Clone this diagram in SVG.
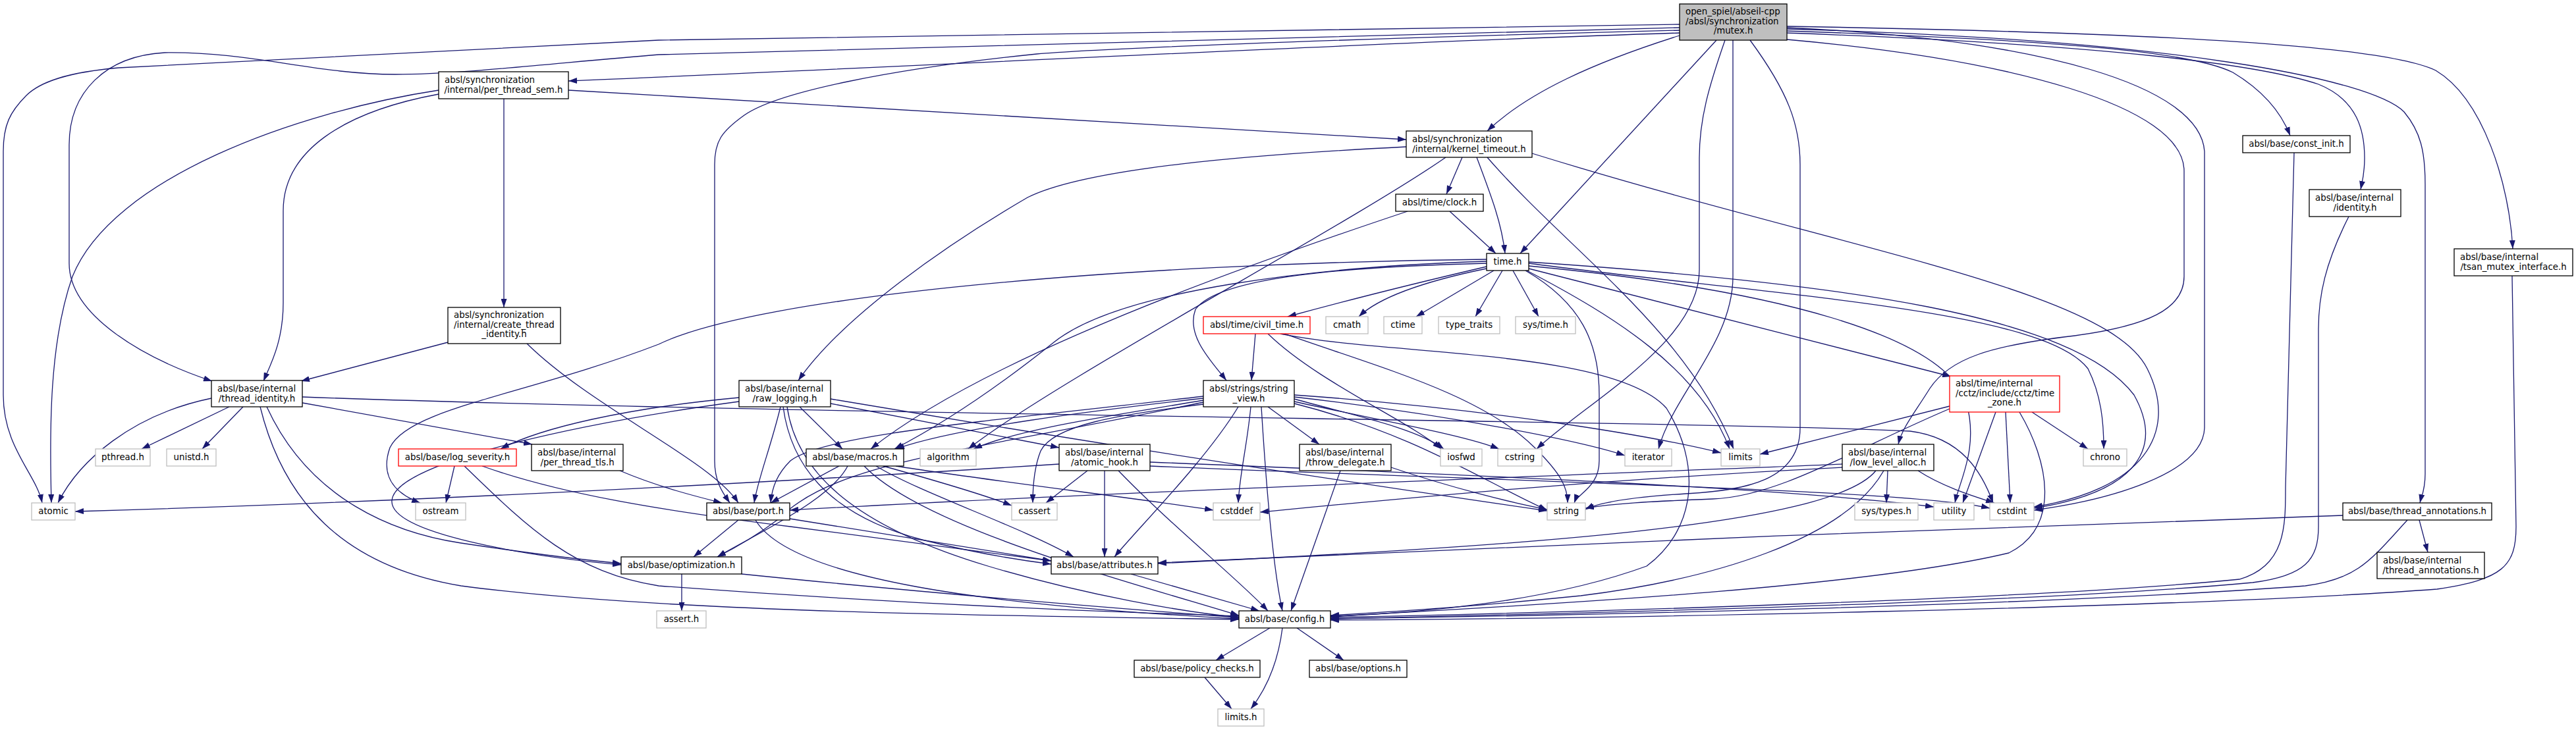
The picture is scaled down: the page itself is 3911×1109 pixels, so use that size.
<svg xmlns="http://www.w3.org/2000/svg" width="3911" height="1109" viewBox="0 0 3911 1109">
<style>
.n rect{fill:#fff;stroke:#000;stroke-width:1.3}
.g rect{fill:#fff;stroke:#bfbfbf;stroke-width:1.3}
.r rect{fill:#fff;stroke:#f00;stroke-width:1.3}
text{font-family:"DejaVu Sans","Liberation Sans",sans-serif;font-size:13.33px;fill:#000}
.c{text-anchor:middle}
#edges path{fill:none;stroke:#191970;stroke-width:1.3;marker-end:url(#ah)}
</style>
<defs>
<marker id="ah" viewBox="0 0 13 9" refX="13" refY="4.5" markerWidth="13" markerHeight="9" markerUnits="userSpaceOnUse" orient="auto"><path d="M0,0L13,4.5L0,9z" fill="#191970"/></marker>
</defs>
<rect width="3911" height="1109" fill="#fff"/>
<g id="edges">
<path d="M2550,37 L1000,61 L180,103 C100,110 60,125 40,145 C15,170 5,190 5,230 L5,600 C5,680 55,720 64,764"/>
<path d="M2550,42 L1000,83 C850,95 700,113 600,113 C480,113 380,78 250,80 C160,85 105,140 105,220 L105,400 C105,480 220,545 322,579"/>
<path d="M2550,50 C2100,64 1300,105 863,123"/>
<path d="M2550,46 C2000,60 1650,75 1574,82 C1350,105 1180,140 1130,175 C1095,200 1085,215 1085,250 L1085,700 C1085,735 1100,752 1108,764"/>
<path d="M2550,54 C2420,95 2320,140 2258,199"/>
<path d="M2606,61 L2308,385"/>
<path d="M2619,61 C2595,130 2580,180 2580,240 L2580,410 C2580,520 2410,610 2333,682"/>
<path d="M2631,61 L2631,420 C2631,520 2540,600 2518,682"/>
<path d="M2657,61 C2715,140 2733,190 2733,250 L2733,650 C2733,730 2650,745 2560,750 C2480,755 2430,762 2407,774"/>
<path d="M2713,42 C3100,60 3340,130 3347,230 L3347,650 C3345,720 3200,760 3088,775"/>
<path d="M2713,60 C3050,90 3316,160 3316,260 L3316,420 C3316,470 3260,495 3150,510 C3020,525 2960,545 2930,590 C2905,630 2888,650 2882,675"/>
<path d="M2713,47 C3150,62 3330,80 3390,110 C3440,140 3465,175 3477,206"/>
<path d="M2713,50 C3200,68 3430,98 3520,128 C3580,152 3590,200 3590,240 C3590,265 3586,278 3584,288"/>
<path d="M2713,44 C3300,60 3600,120 3650,170 C3675,200 3682,230 3682,280 L3682,720 C3682,745 3676,755 3674,764"/>
<path d="M2713,40 C3300,50 3620,70 3698,107 C3770,150 3810,280 3815,378"/>
<path d="M666,137 C450,170 170,270 110,420 C75,520 75,650 78,764"/>
<path d="M666,143 C520,170 430,230 430,320 L430,460 C430,520 410,555 400,579"/>
<path d="M765,150 L765,467"/>
<path d="M863,137 L2135,212"/>
<path d="M2135,223 C1900,235 1650,255 1560,300 C1440,370 1280,480 1212,578"/>
<path d="M2195,239 C2050,340 1600,580 1470,682"/>
<path d="M2220,239 L2196,295"/>
<path d="M2242,239 C2265,300 2280,340 2285,385"/>
<path d="M2258,239 C2380,380 2560,500 2632,682"/>
<path d="M2326,233 C2800,380 3200,440 3260,560 C3310,660 3250,745 3088,770"/>
<path d="M2201,321 L2271,385"/>
<path d="M2137,321 C1900,400 1500,540 1322,682"/>
<path d="M2257,408 C2150,430 2090,455 2063,481"/>
<path d="M2268,411 L2150,481"/>
<path d="M2281,411 L2240,481"/>
<path d="M2297,411 L2336,481"/>
<path d="M2257,405 C2150,430 2050,455 1955,481"/>
<path d="M2257,400 C2050,405 1850,420 1815,470 C1800,510 1840,550 1862,578"/>
<path d="M2257,397 C2000,405 1700,440 1600,520 C1500,600 1420,650 1358,682"/>
<path d="M2257,394 C1700,400 1150,450 1000,523 C800,600 620,620 592,680 C578,720 595,748 638,764"/>
<path d="M2321,400 C2700,450 3100,470 3170,560 C3190,600 3194,640 3194,682"/>
<path d="M2321,404 C2700,440 2950,510 2985,610 C3005,680 2975,730 2968,764"/>
<path d="M2321,398 C2800,430 3150,480 3240,600 C3290,690 3230,750 3088,772"/>
<path d="M2316,411 C2400,460 2428,520 2428,600 L2428,700 C2428,740 2395,750 2390,764"/>
<path d="M2318,411 C2450,480 2580,560 2626,682"/>
<path d="M2321,408 L2962,572"/>
<path d="M1827,608 C1700,630 1550,650 1478,682"/>
<path d="M1827,605 C1650,625 1450,650 1360,682"/>
<path d="M1827,602 C1500,640 1250,660 1200,700 C1180,720 1172,740 1170,764"/>
<path d="M1827,611 C1450,690 1270,700 1180,790 C1140,820 1105,838 1089,846"/>
<path d="M1880,618 C1830,700 1730,800 1692,846"/>
<path d="M1915,618 C1920,700 1930,850 1947,928"/>
<path d="M1899,618 C1893,680 1882,720 1880,764"/>
<path d="M1925,618 L2003,675"/>
<path d="M1827,614 C1700,630 1600,645 1580,685 C1570,710 1568,740 1568,764"/>
<path d="M1965,606 C2050,630 2150,650 2192,682"/>
<path d="M1965,610 C2100,640 2220,660 2276,682"/>
<path d="M1965,603 C2200,630 2400,670 2467,692"/>
<path d="M1965,600 C2250,620 2500,660 2613,688"/>
<path d="M1965,613 C2150,660 2250,730 2349,775"/>
<path d="M1906,507 L1900,578"/>
<path d="M1925,507 C2000,580 2140,640 2188,682"/>
<path d="M1944,507 C2100,540 2450,530 2530,620 C2580,700 2580,800 2500,860 C2350,915 2150,932 2020,936"/>
<path d="M1950,507 C2100,560 2250,600 2330,680 C2370,720 2380,740 2380,764"/>
<path d="M3085,626 L3170,682"/>
<path d="M2960,617 L2672,690"/>
<path d="M2960,621 C2820,680 2700,755 2600,758 C2500,762 2450,765 2407,772"/>
<path d="M3030,626 L2980,764"/>
<path d="M3045,626 L3052,764"/>
<path d="M3066,626 C3110,700 3130,800 3050,840 C2800,900 2200,925 2020,937"/>
<path d="M2866,715 L2864,764"/>
<path d="M2912,715 C2950,740 3000,755 3028,764"/>
<path d="M2797,705 C2300,725 1600,752 1199,775"/>
<path d="M2797,710 C2400,730 2100,760 1913,778"/>
<path d="M2848,715 C2780,800 2300,830 1758,856"/>
<path d="M2860,715 C2800,820 2600,880 2400,905 C2200,925 2100,930 2020,935"/>
<path d="M348,618 L215,682"/>
<path d="M369,618 L307,682"/>
<path d="M321,605 C200,630 120,700 88,764"/>
<path d="M459,603 C1200,630 2600,640 2900,655 C2980,665 3010,720 3026,764"/>
<path d="M459,612 L808,675"/>
<path d="M395,618 C430,760 520,860 700,890 C1000,930 1500,935 1881,941"/>
<path d="M405,618 C470,760 600,810 700,825 C800,840 880,850 943,856"/>
<path d="M680,520 L457,579"/>
<path d="M800,522 C900,620 1080,700 1121,764"/>
<path d="M1122,604 C950,620 820,650 760,682"/>
<path d="M1261,613 L1608,680"/>
<path d="M1214,618 L1279,682"/>
<path d="M1185,618 C1170,680 1150,730 1145,764"/>
<path d="M1122,610 C900,640 600,700 595,760 C590,810 800,845 943,858"/>
<path d="M1195,618 C1210,720 1300,800 1500,860 C1650,905 1800,930 1881,938"/>
<path d="M1189,618 C1200,700 1250,780 1400,820 C1480,840 1540,850 1596,857"/>
<path d="M1261,606 C1700,680 2100,740 2349,776"/>
<path d="M690,708 L677,764"/>
<path d="M732,708 C850,750 1000,775 1200,800 C1400,825 1500,840 1596,852"/>
<path d="M705,708 C800,800 870,870 1000,890 C1400,920 1700,930 1881,936"/>
<path d="M941,715 C1000,740 1060,755 1096,764"/>
<path d="M1341,708 C1420,730 1490,750 1536,768"/>
<path d="M1360,708 C1500,730 1750,760 1842,775"/>
<path d="M1330,708 C1400,750 1550,800 1630,846"/>
<path d="M1312,708 C1400,800 1700,880 1881,935"/>
<path d="M1287,708 C1260,760 1150,810 1089,846"/>
<path d="M1274,708 L1170,764"/>
<path d="M1608,705 C1300,725 700,760 114,777"/>
<path d="M1651,715 L1588,764"/>
<path d="M1746,708 C2400,735 2900,745 3021,772"/>
<path d="M1746,702 C2200,720 2700,740 2936,770"/>
<path d="M1677,715 L1677,846"/>
<path d="M1698,715 C1780,800 1880,880 1925,928"/>
<path d="M2112,710 C2200,740 2300,765 2349,774"/>
<path d="M2035,715 L1960,928"/>
<path d="M1199,788 L1596,852"/>
<path d="M1147,790 C1200,880 1500,920 1881,940"/>
<path d="M1121,790 L1053,846"/>
<path d="M1035,872 L1035,928"/>
<path d="M1126,872 C1400,900 1700,925 1881,938"/>
<path d="M1717,872 L1912,928"/>
<path d="M1928,954 L1846,1003"/>
<path d="M1947,954 C1940,1010 1920,1050 1899,1077"/>
<path d="M1969,954 L2040,1003"/>
<path d="M1829,1029 L1870,1077"/>
<path d="M3483,232 L3470,740 C3470,800 3470,860 3400,880 C3100,910 2400,930 2020,938"/>
<path d="M3566,329 C3530,400 3520,450 3520,500 L3520,800 C3520,850 3500,875 3420,885 C3100,915 2400,932 2020,940"/>
<path d="M3814,419 L3820,800 C3820,860 3800,880 3700,895 C3300,925 2400,940 2020,942"/>
<path d="M3557,783 C3000,800 2300,830 1758,855"/>
<path d="M3655,790 C3600,850 3580,880 3500,890 C3100,920 2400,935 2020,940"/>
<path d="M3673,790 L3686,839"/>
</g>
<g id="n_mutex" class="n"><rect x="2550" y="6" width="163" height="55" style="fill:#bfbfbf"/><text x="2559" y="22">open_spiel/abseil-cpp</text><text x="2559" y="37">/absl/synchronization</text><text class="c" x="2631.5" y="51">/mutex.h</text></g>
<g id="n_per_thread_sem" class="n"><rect x="666" y="109" width="197" height="41"/><text x="675" y="126">absl/synchronization</text><text class="c" x="764.5" y="141">/internal/per_thread_sem.h</text></g>
<g id="n_kernel_timeout" class="n"><rect x="2135" y="199" width="191" height="40"/><text x="2144" y="216">absl/synchronization</text><text class="c" x="2230.5" y="231">/internal/kernel_timeout.h</text></g>
<g id="n_clock" class="n"><rect x="2119" y="295" width="133" height="26"/><text class="c" x="2185.5" y="312">absl/time/clock.h</text></g>
<g id="n_time" class="n"><rect x="2257" y="385" width="64" height="26"/><text class="c" x="2289" y="402">time.h</text></g>
<g id="n_const_init" class="n"><rect x="3405" y="206" width="163" height="26"/><text class="c" x="3486.5" y="223">absl/base/const_init.h</text></g>
<g id="n_identity" class="n"><rect x="3506" y="288" width="139" height="41"/><text x="3515" y="305">absl/base/internal</text><text class="c" x="3575.5" y="320">/identity.h</text></g>
<g id="n_tsan" class="n"><rect x="3726" y="378" width="180" height="41"/><text x="3735" y="395">absl/base/internal</text><text class="c" x="3816" y="410">/tsan_mutex_interface.h</text></g>
<g id="n_thread_identity" class="n"><rect x="321" y="578" width="138" height="40"/><text x="330" y="595">absl/base/internal</text><text class="c" x="390" y="610">/thread_identity.h</text></g>
<g id="n_create_thread_identity" class="n"><rect x="680" y="467" width="171" height="55"/><text x="689" y="483">absl/synchronization</text><text x="689" y="498">/internal/create_thread</text><text class="c" x="765.5" y="512">_identity.h</text></g>
<g id="n_raw_logging" class="n"><rect x="1122" y="578" width="139" height="40"/><text x="1131" y="595">absl/base/internal</text><text class="c" x="1191.5" y="610">/raw_logging.h</text></g>
<g id="n_civil_time" class="r"><rect x="1827" y="481" width="162" height="26"/><text class="c" x="1908" y="498">absl/time/civil_time.h</text></g>
<g id="n_string_view" class="n"><rect x="1827" y="578" width="138" height="40"/><text x="1836" y="595">absl/strings/string</text><text class="c" x="1896" y="610">_view.h</text></g>
<g id="n_time_zone" class="r"><rect x="2960" y="571" width="167" height="55"/><text x="2969" y="587">absl/time/internal</text><text x="2969" y="602">/cctz/include/cctz/time</text><text class="c" x="3043.5" y="616">_zone.h</text></g>
<g id="n_cmath" class="g"><rect x="2013" y="481" width="64" height="26"/><text class="c" x="2045" y="498">cmath</text></g>
<g id="n_ctime" class="g"><rect x="2101" y="481" width="58" height="26"/><text class="c" x="2130" y="498">ctime</text></g>
<g id="n_type_traits" class="g"><rect x="2184" y="481" width="93" height="26"/><text class="c" x="2230.5" y="498">type_traits</text></g>
<g id="n_sys_time" class="g"><rect x="2301" y="481" width="91" height="26"/><text class="c" x="2346.5" y="498">sys/time.h</text></g>
<g id="n_low_level_alloc" class="n"><rect x="2797" y="675" width="139" height="40"/><text x="2806" y="692">absl/base/internal</text><text class="c" x="2866.5" y="707">/low_level_alloc.h</text></g>
<g id="n_throw_delegate" class="n"><rect x="1973" y="675" width="139" height="40"/><text x="1982" y="692">absl/base/internal</text><text class="c" x="2042.5" y="707">/throw_delegate.h</text></g>
<g id="n_atomic_hook" class="n"><rect x="1608" y="675" width="138" height="40"/><text x="1617" y="692">absl/base/internal</text><text class="c" x="1677" y="707">/atomic_hook.h</text></g>
<g id="n_per_thread_tls" class="n"><rect x="807" y="675" width="139" height="40"/><text x="816" y="692">absl/base/internal</text><text class="c" x="876.5" y="707">/per_thread_tls.h</text></g>
<g id="n_pthread" class="g"><rect x="145" y="682" width="83" height="26"/><text class="c" x="186.5" y="699">pthread.h</text></g>
<g id="n_unistd" class="g"><rect x="253" y="682" width="75" height="26"/><text class="c" x="290.5" y="699">unistd.h</text></g>
<g id="n_log_severity" class="r"><rect x="605" y="682" width="179" height="26"/><text class="c" x="694.5" y="699">absl/base/log_severity.h</text></g>
<g id="n_macros" class="n"><rect x="1224" y="682" width="148" height="26"/><text class="c" x="1298" y="699">absl/base/macros.h</text></g>
<g id="n_algorithm" class="g"><rect x="1397" y="682" width="85" height="26"/><text class="c" x="1439.5" y="699">algorithm</text></g>
<g id="n_iosfwd" class="g"><rect x="2187" y="682" width="63" height="26"/><text class="c" x="2218.5" y="699">iosfwd</text></g>
<g id="n_cstring" class="g"><rect x="2274" y="682" width="67" height="26"/><text class="c" x="2307.5" y="699">cstring</text></g>
<g id="n_iterator" class="g"><rect x="2467" y="682" width="71" height="26"/><text class="c" x="2502.5" y="699">iterator</text></g>
<g id="n_limits" class="g"><rect x="2613" y="682" width="59" height="26"/><text class="c" x="2642.5" y="699">limits</text></g>
<g id="n_chrono" class="g"><rect x="3163" y="682" width="66" height="26"/><text class="c" x="3196" y="699">chrono</text></g>
<g id="n_atomic" class="g"><rect x="48" y="764" width="66" height="26"/><text class="c" x="81" y="781">atomic</text></g>
<g id="n_ostream" class="g"><rect x="631" y="764" width="76" height="26"/><text class="c" x="669" y="781">ostream</text></g>
<g id="n_port" class="n"><rect x="1073" y="764" width="126" height="26"/><text class="c" x="1136" y="781">absl/base/port.h</text></g>
<g id="n_cassert" class="g"><rect x="1536" y="764" width="69" height="26"/><text class="c" x="1570.5" y="781">cassert</text></g>
<g id="n_cstddef" class="g"><rect x="1842" y="764" width="71" height="26"/><text class="c" x="1877.5" y="781">cstddef</text></g>
<g id="n_string" class="g"><rect x="2349" y="764" width="58" height="26"/><text class="c" x="2378" y="781">string</text></g>
<g id="n_sys_types" class="g"><rect x="2816" y="764" width="96" height="26"/><text class="c" x="2864" y="781">sys/types.h</text></g>
<g id="n_utility" class="g"><rect x="2936" y="764" width="61" height="26"/><text class="c" x="2966.5" y="781">utility</text></g>
<g id="n_cstdint" class="g"><rect x="3021" y="764" width="67" height="26"/><text class="c" x="3054.5" y="781">cstdint</text></g>
<g id="n_thread_annotations" class="n"><rect x="3557" y="764" width="226" height="26"/><text class="c" x="3670" y="781">absl/base/thread_annotations.h</text></g>
<g id="n_optimization" class="n"><rect x="943" y="846" width="183" height="26"/><text class="c" x="1034.5" y="863">absl/base/optimization.h</text></g>
<g id="n_attributes" class="n"><rect x="1596" y="846" width="162" height="26"/><text class="c" x="1677" y="863">absl/base/attributes.h</text></g>
<g id="n_internal_thread_annotations" class="n"><rect x="3609" y="839" width="163" height="40"/><text x="3618" y="856">absl/base/internal</text><text class="c" x="3690.5" y="871">/thread_annotations.h</text></g>
<g id="n_assert" class="g"><rect x="997" y="928" width="75" height="26"/><text class="c" x="1034.5" y="945">assert.h</text></g>
<g id="n_config" class="n"><rect x="1881" y="928" width="139" height="26"/><text class="c" x="1950.5" y="945">absl/base/config.h</text></g>
<g id="n_policy_checks" class="n"><rect x="1722" y="1003" width="191" height="26"/><text class="c" x="1817.5" y="1020">absl/base/policy_checks.h</text></g>
<g id="n_options" class="n"><rect x="1988" y="1003" width="148" height="26"/><text class="c" x="2062" y="1020">absl/base/options.h</text></g>
<g id="n_limits_h" class="g"><rect x="1849" y="1077" width="70" height="26"/><text class="c" x="1884" y="1094">limits.h</text></g>
</svg>
